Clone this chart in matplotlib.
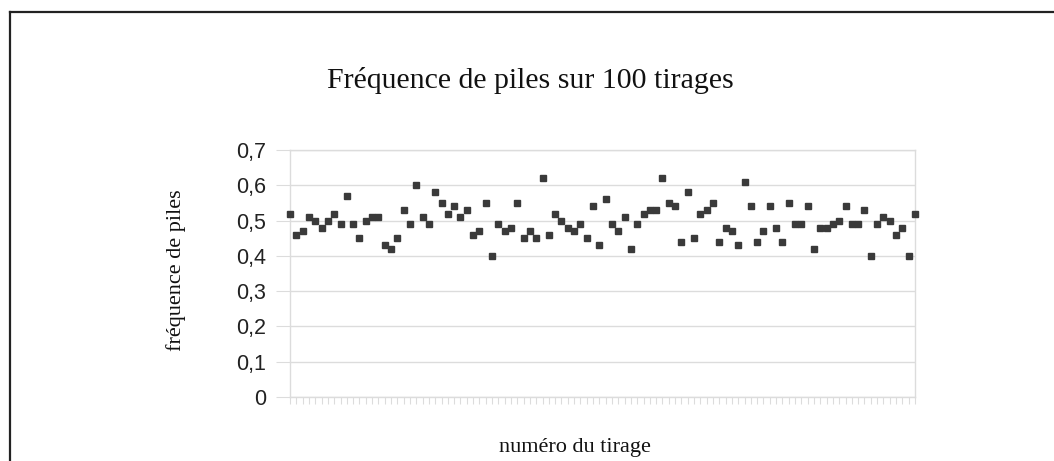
import matplotlib
matplotlib.use("Agg")
import matplotlib.pyplot as plt
import numpy as np

title = "Fréquence de piles sur 100 tirages"
xlabel = "numéro du tirage"
ylabel = "fréquence de piles"
ytick_values = [0, 0.1, 0.2, 0.3, 0.4, 0.5, 0.6, 0.7]
ytick_labels = ["0", "0,1", "0,2", "0,3", "0,4", "0,5", "0,6", "0,7"]

frequences = [
    0.52, 0.46, 0.47, 0.51, 0.50, 0.48, 0.50, 0.52, 0.49, 0.57,
    0.49, 0.45, 0.50, 0.51, 0.51, 0.43, 0.42, 0.45, 0.53, 0.49,
    0.60, 0.51, 0.49, 0.58, 0.55, 0.52, 0.54, 0.51, 0.53, 0.46,
    0.47, 0.55, 0.40, 0.49, 0.47, 0.48, 0.55, 0.45, 0.47, 0.45,
    0.62, 0.46, 0.52, 0.50, 0.48, 0.47, 0.49, 0.45, 0.54, 0.43,
    0.56, 0.49, 0.47, 0.51, 0.42, 0.49, 0.52, 0.53, 0.53, 0.62,
    0.55, 0.54, 0.44, 0.58, 0.45, 0.52, 0.53, 0.55, 0.44, 0.48,
    0.47, 0.43, 0.61, 0.54, 0.44, 0.47, 0.54, 0.48, 0.44, 0.55,
    0.49, 0.49, 0.54, 0.42, 0.48, 0.48, 0.49, 0.50, 0.54, 0.49,
    0.49, 0.53, 0.40, 0.49, 0.51, 0.50, 0.46, 0.48, 0.40, 0.52,
]
tirages = list(range(1, len(frequences) + 1))

W, H = 1054, 461
fig = plt.figure(figsize=(W / 100, H / 100), dpi=100)

# outer frame (left and top border)
fig.add_artist(plt.Line2D([9.5 / W, 9.5 / W], [0, 1 - 12 / H], color="#222222", lw=1.6,
                          transform=fig.transFigure))
fig.add_artist(plt.Line2D([9.5 / W, 1], [1 - 12 / H, 1 - 12 / H], color="#222222", lw=1.6,
                          transform=fig.transFigure))

left, right = 290 / W, 915 / W
top, bottom = 1 - 150 / H, 1 - 397 / H
ax = fig.add_axes([left, bottom, right - left, top - bottom])

grid_c = "#dcdcdc"
ax.plot(tirages, frequences, linestyle="none", marker="s", markersize=4.6,
        color="#3a3a3a", clip_on=False, zorder=3)

ax.set_xlim(1, 100)
ax.set_ylim(0, 0.7)
ax.set_yticks(ytick_values)
ax.set_yticklabels(ytick_labels, fontsize=15.5, family="Liberation Sans", color="#222222")
ax.set_xticks(np.arange(1, 101))
ax.set_xticklabels([])
ax.tick_params(axis="y", length=10, color=grid_c, pad=7)
ax.tick_params(axis="x", length=5, color=grid_c, direction="out")
ax.grid(axis="y", color=grid_c, lw=1)
for s in ax.spines.values():
    s.set_color(grid_c)
    s.set_linewidth(1)
ax.set_axisbelow(True)

fig.text(530 / W, 1 - 80 / H, title, ha="center", va="center",
         family="Liberation Serif", fontsize=21.5, color="#111111")
fig.text(575 / W, 1 - 447 / H, xlabel, ha="center", va="center",
         family="Liberation Serif", fontsize=16, color="#111111")
fig.text(176 / W, 1 - 270 / H, ylabel, ha="center", va="center", rotation=90,
         family="Liberation Serif", fontsize=16, color="#111111")

fig.savefig("out.png", dpi=100)
